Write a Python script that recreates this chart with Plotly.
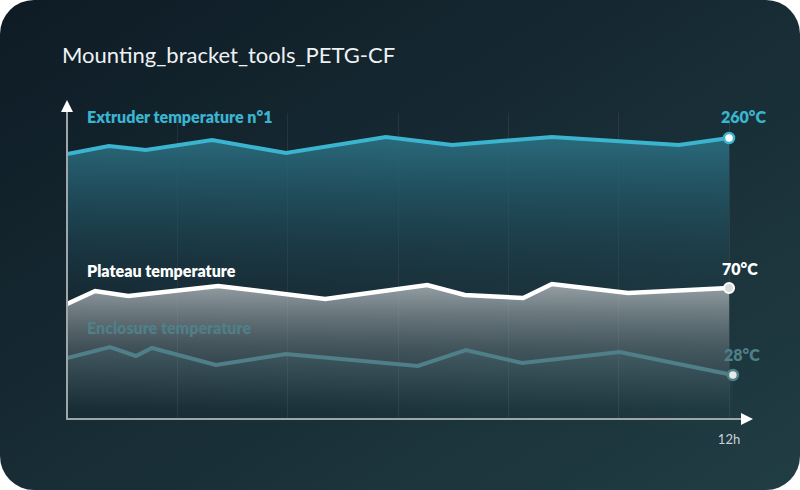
import base64
import plotly.graph_objects as go

# ---------------- data ----------------
title_text = "Mounting_bracket_tools_PETG-CF"

extruder_name = "Extruder temperature n°1"
extruder_h = [0, 0.76, 1.43, 2.63, 3.97, 5.78, 6.98, 8.79, 11.09, 12.0]
extruder_t = [252, 256, 254, 259, 252.5, 260.5, 256.5, 260.5, 256.5, 260]

plateau_name = "Plateau temperature"
plateau_h = [0, 0.51, 1.11, 2.74, 4.68, 6.53, 7.21, 8.27, 8.79, 10.17, 12.0]
plateau_t = [66, 69.25, 68, 70.5, 67.25, 70.75, 68.25, 67.5, 71, 68.75, 70]

enclosure_name = "Enclosure temperature"
enclosure_h = [0, 0.78, 1.25, 1.54, 2.70, 3.97, 6.36, 7.23, 8.25, 10.02, 12.07]
enclosure_t = [29.7, 30.8, 29.9, 30.7, 29.0, 30.1, 28.9, 30.5, 29.2, 30.3, 28]

grid_hours = [2, 4, 6, 8, 10, 12]
grid_labels = ["", "", "", "", "", "12h"]

# ---------------- layout geometry ----------------
W, H = 800, 490
L, R, T, B = 67, 50, 113, 71
PW, PH = W - L - R, H - T - B


def pxx(px):
    return (px - L) / PW


def pxy(py):
    return (H - B - py) / PH


CYAN = "#3bb4d0"
WHITE = "#ffffff"
TEAL = "#4f7f88"
FONT = "Lato"

fig = go.Figure()

# extruder
fig.add_trace(go.Scatter(
    x=extruder_h, y=extruder_t, mode="lines", yaxis="y",
    line=dict(color=CYAN, width=4), fill="tozeroy",
    fillgradient=dict(type="vertical", start=172, stop=259,
                      colorscale=[[0, "rgba(30,62,75,0)"],
                                  [0.5, "rgba(34,82,98,0.55)"],
                                  [1, "rgba(42,108,126,0.95)"]]),
    hoverinfo="skip", showlegend=False))
fig.add_trace(go.Scatter(
    x=[extruder_h[-1]], y=[extruder_t[-1]], mode="markers", yaxis="y",
    marker=dict(size=10, color="white", line=dict(color=CYAN, width=2.5)),
    hoverinfo="skip", showlegend=False))

# plateau
fig.add_trace(go.Scatter(
    x=plateau_h, y=plateau_t, mode="lines", yaxis="y2",
    line=dict(color=WHITE, width=4.5), fill="tozeroy",
    fillgradient=dict(type="vertical", start=39.5, stop=70.75,
                      colorscale=[[0, "rgba(110,122,128,0)"],
                                  [0.5, "rgba(130,140,145,0.4)"],
                                  [1, "rgba(178,186,189,0.8)"]]),
    hoverinfo="skip", showlegend=False))
fig.add_trace(go.Scatter(
    x=[plateau_h[-1]], y=[plateau_t[-1]], mode="markers", yaxis="y2",
    marker=dict(size=10, color="#d8dcdd", line=dict(color=WHITE, width=2)),
    hoverinfo="skip", showlegend=False))

# enclosure
fig.add_trace(go.Scatter(
    x=enclosure_h, y=enclosure_t, mode="lines", yaxis="y3",
    line=dict(color=TEAL, width=4), fill="tozeroy",
    fillgradient=dict(type="vertical", start=23.6, stop=30.8,
                      colorscale=[[0, "rgba(60,100,110,0)"],
                                  [1, "rgba(70,115,125,0.22)"]]),
    hoverinfo="skip", showlegend=False))
fig.add_trace(go.Scatter(
    x=[enclosure_h[-1]], y=[enclosure_t[-1]], mode="markers", yaxis="y3",
    marker=dict(size=10, color="#e6eaeb", line=dict(color=TEAL, width=2.5)),
    hoverinfo="skip", showlegend=False))

# ---------------- background card ----------------
svg = (f"<svg xmlns='http://www.w3.org/2000/svg' width='{W}' height='{H}'>"
       "<defs><linearGradient id='g' x1='0' y1='0' x2='1' y2='1'>"
       "<stop offset='0' stop-color='#0e1b25'/>"
       "<stop offset='1' stop-color='#213d44'/>"
       "</linearGradient></defs>"
       f"<rect x='0' y='0' width='{W}' height='{H}' rx='34' ry='34' fill='url(#g)'/></svg>")
src = "data:image/svg+xml;base64," + base64.b64encode(svg.encode()).decode()

fig.add_layout_image(dict(
    source=src, xref="paper", yref="paper",
    x=pxx(0), y=pxy(0), sizex=W / PW, sizey=H / PH,
    xanchor="left", yanchor="top", sizing="stretch", layer="below"))

# axes lines
AXC = "#9ea6a9"
fig.add_shape(type="line", xref="paper", yref="paper",
              x0=pxx(67), y0=pxy(420), x1=pxx(67), y1=pxy(106),
              line=dict(color=AXC, width=2))
fig.add_shape(type="line", xref="paper", yref="paper",
              x0=pxx(66), y0=pxy(419), x1=pxx(746), y1=pxy(419),
              line=dict(color=AXC, width=2))

LBL = dict(family=FONT, size=16, weight=800)

annotations = [
    # arrowheads
    dict(x=pxx(67), y=pxy(100), xref="paper", yref="paper", text="",
         showarrow=True, ax=0, ay=8, arrowhead=2, arrowsize=1.2,
         arrowwidth=2, arrowcolor="white"),
    dict(x=pxx(753), y=pxy(419), xref="paper", yref="paper", text="",
         showarrow=True, ax=-8, ay=0, arrowhead=2, arrowsize=1.2,
         arrowwidth=2, arrowcolor="white"),
    # series labels
    dict(x=pxx(85), y=pxy(117), xref="paper", yref="paper", text=extruder_name,
         showarrow=False, xanchor="left", yanchor="middle",
         font=dict(LBL, color=CYAN)),
    dict(x=pxx(85), y=pxy(270), xref="paper", yref="paper", text=plateau_name,
         showarrow=False, xanchor="left", yanchor="middle",
         font=dict(LBL, color=WHITE)),
    dict(x=pxx(85), y=pxy(327), xref="paper", yref="paper", text=enclosure_name,
         showarrow=False, xanchor="left", yanchor="middle",
         font=dict(LBL, color=TEAL)),
    # end values
    dict(x=extruder_h[-1], y=extruder_t[-1], xref="x", yref="y",
         text=f"{extruder_t[-1]:.0f}°C", showarrow=False,
         xshift=14, yshift=22, font=dict(LBL, color=CYAN)),
    dict(x=plateau_h[-1], y=plateau_t[-1], xref="x", yref="y2",
         text=f"{plateau_t[-1]:.0f}°C", showarrow=False,
         xshift=11, yshift=20, font=dict(LBL, color=WHITE)),
    dict(x=enclosure_h[-1], y=enclosure_t[-1], xref="x", yref="y3",
         text=f"{enclosure_t[-1]:.0f}°C", showarrow=False,
         xshift=9, yshift=21, font=dict(LBL, color=TEAL)),
]

fig.update_layout(
    width=W, height=H,
    margin=dict(l=L, r=R, t=T, b=B, pad=0),
    paper_bgcolor="white", plot_bgcolor="rgba(0,0,0,0)",
    title=dict(text=title_text, x=62 / W, xanchor="left", xref="container",
               y=1 - 55 / H, yanchor="middle", yref="container",
               font=dict(family=FONT, size=22, color="#eef2f3")),
    xaxis=dict(range=[0, PW / 55.17], showgrid=True,
               gridcolor="rgba(255,255,255,0.07)", gridwidth=1,
               tickmode="array", tickvals=grid_hours, ticktext=grid_labels,
               ticks="", showline=False, zeroline=False, ticklabelstandoff=11,
               tickfont=dict(family=FONT, size=13, color="#c9d1d4"),
               fixedrange=True),
    yaxis=dict(range=[119.5, 272.5], visible=False, fixedrange=True),
    yaxis2=dict(range=[37.25, 113.75], visible=False, overlaying="y", fixedrange=True),
    yaxis3=dict(range=[23.6, 54.2], visible=False, overlaying="y", fixedrange=True),
    annotations=annotations,
    showlegend=False,
)

fig.write_html("out.html")
